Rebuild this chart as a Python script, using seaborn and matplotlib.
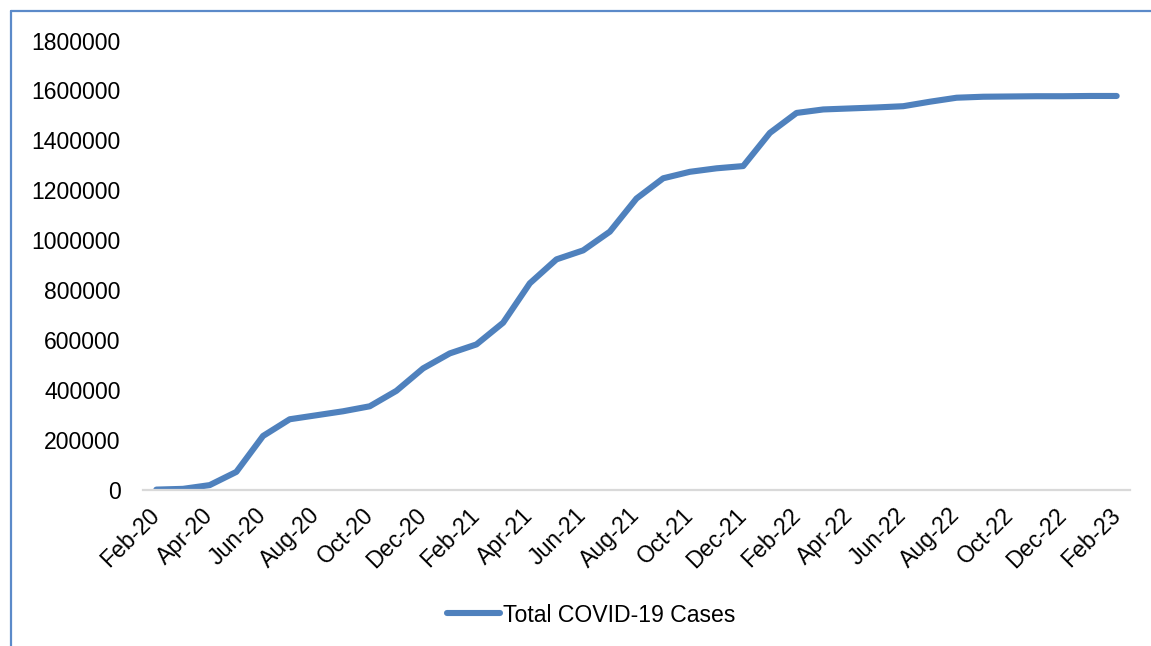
import matplotlib
matplotlib.use("Agg")
import matplotlib.pyplot as plt
import seaborn as sns
import pandas as pd
from matplotlib.lines import Line2D

months = ["Feb-20", "Mar-20", "Apr-20", "May-20", "Jun-20", "Jul-20", "Aug-20",
          "Sep-20", "Oct-20", "Nov-20", "Dec-20", "Jan-21", "Feb-21", "Mar-21",
          "Apr-21", "May-21", "Jun-21", "Jul-21", "Aug-21", "Sep-21", "Oct-21",
          "Nov-21", "Dec-21", "Jan-22", "Feb-22", "Mar-22", "Apr-22", "May-22",
          "Jun-22", "Jul-22", "Aug-22", "Sep-22", "Oct-22", "Nov-22", "Dec-22",
          "Jan-23", "Feb-23"]
total_cases = [0, 3000, 18000, 71000, 215000, 282000, 298000,
               314000, 334000, 396000, 486000, 546000, 582000, 669000,
               827000, 923000, 959000, 1034000, 1167000, 1248000, 1274000,
               1288000, 1297000, 1430000, 1510000, 1524000, 1528000, 1532000,
               1537000, 1555000, 1571000, 1575000, 1576000, 1577000, 1577000,
               1578000, 1578000]
y_ticks = [0, 200000, 400000, 600000, 800000, 1000000, 1200000, 1400000, 1600000, 1800000]
series_name = "Total COVID-19 Cases"

df = pd.DataFrame({"month": months, "cases": total_cases})
df["pos"] = range(len(df))

sns.set_theme(style="white")
plt.rcParams["font.family"] = ["Liberation Sans", "DejaVu Sans"]

W, H, DPI = 1151, 646, 100
FS = 16.6
fig = plt.figure(figsize=(W / DPI, H / DPI), dpi=DPI)
ax = fig.add_axes([143 / W, 1 - 489.6 / H, (1130 - 143) / W, (489.6 - 40.6) / H])

line_color = "#4F81BD"
sns.lineplot(data=df, x="pos", y="cases", ax=ax, color=line_color, linewidth=4.4,
             solid_capstyle="round", solid_joinstyle="round", legend=False)

ax.set_xlim(-0.5, len(months) - 0.5)
ax.set_ylim(0, 1800000)
ax.set_yticks(y_ticks)
ax.set_yticklabels([str(v) for v in y_ticks])
ax.set_xticks(range(0, len(months), 2))
ax.set_xticklabels(months[::2], rotation=45, ha="right", rotation_mode="anchor")
ax.set_xlabel("")
ax.set_ylabel("")
ax.tick_params(axis="y", length=0, pad=16, labelsize=FS, labelcolor="black")
ax.tick_params(axis="x", length=0, pad=16, labelsize=FS, labelcolor="black")
for lbl in ax.get_xticklabels():
    lbl.set_verticalalignment("center")

for side in ["top", "right", "left"]:
    ax.spines[side].set_visible(False)
ax.spines["bottom"].set_color("#D9D9D9")
ax.spines["bottom"].set_linewidth(1.6)
ax.grid(False)

handle = Line2D([0], [0], color=line_color, linewidth=4.4, solid_capstyle="round")
leg = fig.legend([handle], [series_name], loc="center", bbox_to_anchor=(591 / W, 1 - 615 / H),
                 frameon=False, fontsize=FS, handlelength=2.3, handletextpad=0.15)
for t in leg.get_texts():
    t.set_color("black")

# outer chart frame
border = "#5B8AC9"
fig.add_artist(Line2D([11 / W, 11 / W], [0, 1 - 11 / H], color=border, linewidth=1.6,
                      transform=fig.transFigure))
fig.add_artist(Line2D([11 / W, 1], [1 - 11 / H, 1 - 11 / H], color=border, linewidth=1.6,
                      transform=fig.transFigure))

fig.savefig("out.png", dpi=DPI, facecolor="white")
